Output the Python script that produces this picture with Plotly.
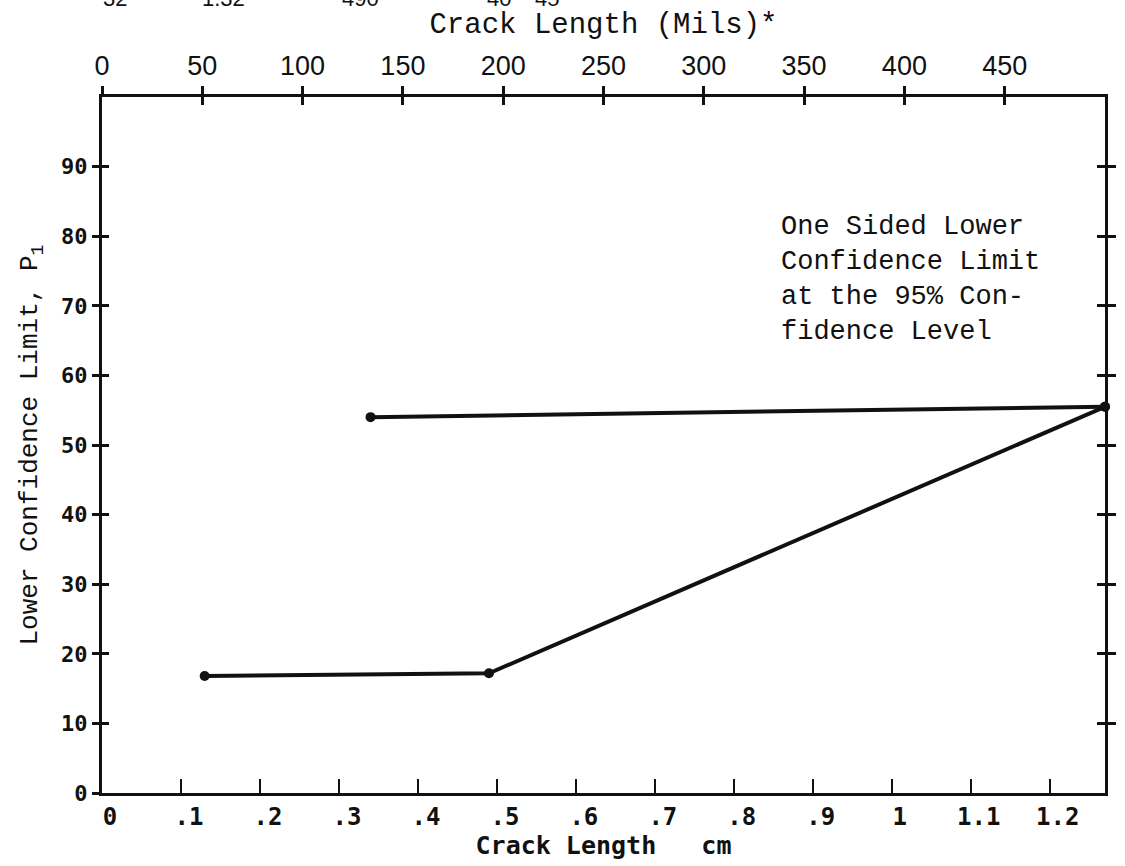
import plotly.graph_objects as go

# Crack length in cm (bottom scale) and lower confidence limit P1
lower_cm = [0.13, 0.49, 1.27]
lower_p = [16.8, 17.2, 55.5]
upper_cm = [0.34, 1.27]
upper_p = [54.0, 55.5]

cm_ticks = [0, 0.1, 0.2, 0.3, 0.4, 0.5, 0.6, 0.7, 0.8, 0.9, 1.0, 1.1, 1.2]
cm_labels = ["0", ".1", ".2", ".3", ".4", ".5", ".6", ".7", ".8", ".9", "1", "1.1", "1.2"]
mil_ticks = [0, 50, 100, 150, 200, 250, 300, 350, 400, 450]
mil_labels = [str(v) for v in mil_ticks]
p_ticks = [0, 10, 20, 30, 40, 50, 60, 70, 80, 90]
p_labels = [str(v) for v in p_ticks]
right_ticks = [10, 20, 30, 40, 50, 60, 70, 80, 90]

# remnants of a header row cut off at the page edge
header_text = ["32", "1.32", "490", "40", "45"]
header_x = [0.013, 0.121, 0.258, 0.396, 0.444]

CM_MAX = 1.27
MIL_MAX = 500
P_MAX = 100

TYPE = "Liberation Mono, Courier New, monospace"
PLOT = "DejaVu Sans Mono, monospace"
SANS = "Liberation Sans, Arial, sans-serif"
INK = "#111111"

fig = go.Figure()

for xs, ys in [(lower_cm, lower_p), (upper_cm, upper_p)]:
    fig.add_trace(go.Scatter(
        x=xs, y=ys, mode="lines+markers",
        line=dict(color=INK, width=4),
        marker=dict(size=10, color=INK, symbol="circle"),
        showlegend=False, hoverinfo="skip", cliponaxis=False,
    ))

# empty traces so every overlay axis is instantiated
for xa, ya in [("x2", "y"), ("x3", "y"), ("x", "y2"), ("x", "y3"), ("x", "y4")]:
    fig.add_trace(go.Scatter(x=[], y=[], xaxis=xa, yaxis=ya, showlegend=False))

base_axis = dict(showgrid=False, zeroline=False, linecolor=INK, tickcolor=INK)

fig.update_layout(
    width=1125, height=866,
    margin=dict(l=102, r=15, t=97, b=69),
    paper_bgcolor="white", plot_bgcolor="white",
    showlegend=False,
    xaxis=dict(
        **base_axis, range=[0, CM_MAX], tickvals=cm_ticks, ticktext=cm_labels,
        ticks="inside", ticklen=14, tickwidth=2, showline=True, linewidth=3,
        tickfont=dict(family=PLOT, size=24, color=INK, weight="bold"),
        ticklabelshift=8,
        title=dict(text="Crack Length   cm", standoff=6,
                   font=dict(family=PLOT, size=25, color=INK, weight="bold")),
    ),
    xaxis2=dict(
        **base_axis, overlaying="x", side="top", anchor="y", range=[0, MIL_MAX],
        tickvals=mil_ticks, ticktext=mil_labels,
        ticks="outside", ticklen=8, tickwidth=3, showline=True, linewidth=3,
        tickfont=dict(family=SANS, size=27, color=INK),
        title=dict(text="Crack Length (Mils)*", standoff=10,
                   font=dict(family=TYPE, size=29, color=INK)),
    ),
    xaxis3=dict(
        **base_axis, overlaying="x", side="top", anchor="y", range=[0, MIL_MAX],
        tickvals=mil_ticks, ticks="inside", ticklen=8, tickwidth=3,
        showticklabels=False, showline=False,
    ),
    yaxis=dict(
        **base_axis, range=[0, P_MAX], tickvals=p_ticks, ticktext=p_labels,
        ticks="outside", ticklen=7, tickwidth=3, showline=True, linewidth=3,
        tickfont=dict(family=PLOT, size=22, color=INK, weight="bold"),
        title=dict(text="Lower Confidence Limit, P<sub>1</sub>", standoff=16,
                   font=dict(family=TYPE, size=26, color=INK)),
    ),
    yaxis2=dict(
        **base_axis, overlaying="y", side="left", anchor="x", range=[0, P_MAX],
        tickvals=p_ticks[1:], ticks="inside", ticklen=7, tickwidth=3,
        showticklabels=False, showline=False,
    ),
    yaxis3=dict(
        **base_axis, overlaying="y", side="right", anchor="x", range=[0, P_MAX],
        tickvals=right_ticks, ticks="outside", ticklen=8, tickwidth=3,
        showticklabels=False, showline=True, linewidth=3,
    ),
    yaxis4=dict(
        **base_axis, overlaying="y", side="right", anchor="x", range=[0, P_MAX],
        tickvals=right_ticks, ticks="inside", ticklen=8, tickwidth=3,
        showticklabels=False, showline=False,
    ),
)

fig.add_annotation(
    xref="paper", yref="paper", x=0.675, y=0.838,
    xanchor="left", yanchor="top", align="left", showarrow=False,
    text="One Sided Lower<br>Confidence Limit<br>at the 95% Con-<br>fidence Level",
    font=dict(family=TYPE, size=27, color=INK),
)

for txt, xp in zip(header_text, header_x):
    fig.add_annotation(
        xref="paper", yref="paper", x=xp, y=1, xanchor="center", yanchor="middle",
        yshift=99, showarrow=False, text=txt,
        font=dict(family=SANS, size=22, color=INK),
    )

fig.write_html("out.html")
